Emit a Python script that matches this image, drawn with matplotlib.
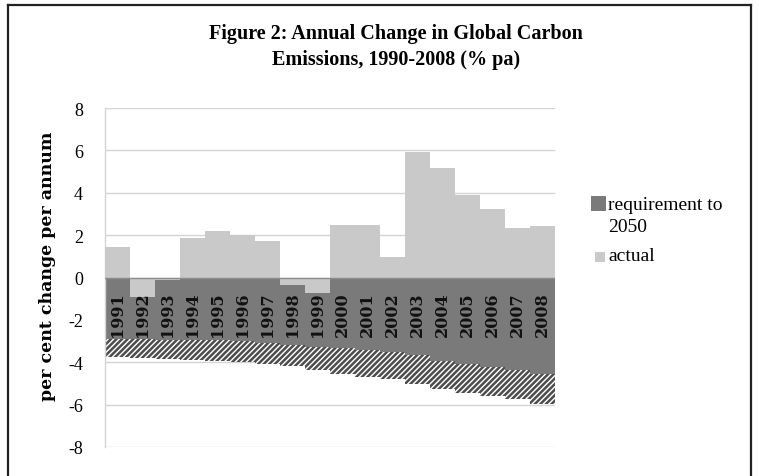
import matplotlib
matplotlib.use("Agg")
import matplotlib.pyplot as plt
from matplotlib.patches import Rectangle
from matplotlib.lines import Line2D

# Annual change in global carbon emissions (% per annum)
years = [1991, 1992, 1993, 1994, 1995, 1996, 1997, 1998, 1999,
         2000, 2001, 2002, 2003, 2004, 2005, 2006, 2007, 2008]
actual = [1.44, -0.93, -0.10, 1.87, 2.18, 2.02, 1.74, -0.35, -0.75,
          2.50, 2.46, 0.97, 5.91, 5.18, 3.91, 3.25, 2.34, 2.43]
# annual reduction needed to reach the 2050 target (upper and lower bound)
requirement = [-2.89, -2.90, -2.93, -2.95, -2.97, -3.00, -3.10, -3.20, -3.30,
               -3.32, -3.41, -3.52, -3.68, -3.92, -4.08, -4.23, -4.36, -4.55]
requirement_low = [-3.76, -3.80, -3.85, -3.90, -3.95, -4.00, -4.10, -4.20, -4.38,
                   -4.55, -4.68, -4.79, -5.02, -5.26, -5.47, -5.58, -5.73, -5.97]
yticks = [-8, -6, -4, -2, 0, 2, 4, 6, 8]

title = "Figure 2: Annual Change in Global Carbon\nEmissions, 1990-2008 (% pa)"
ylabel = "per cent change per annum"
legend_labels = ["requirement to\n2050", "actual"]

DARK = "#7a7a7a"
LIGHT = "#c9c9c9"
HATCH = "#4d4d4d"
GRID = "#d4d4d4"

plt.rcParams["hatch.linewidth"] = 1.8
plt.rcParams["hatch.color"] = HATCH

W, H = 759, 477
fig = plt.figure(figsize=(W / 100, H / 100), dpi=100)
fig.patch.set_facecolor("white")

def fx(px):
    return px / W

def fy(py):
    return 1 - py / H

ax = fig.add_axes([fx(105), fy(448), (555 - 105) / W, (448 - 109) / H])

# requirement bars from zero down to the upper bound
ax.bar(years, requirement, width=1.0, color=DARK, linewidth=0, zorder=2)
# hatched band between the upper and lower bound of the requirement
band = [lo - hi for lo, hi in zip(requirement_low, requirement)]
ax.bar(years, band, bottom=requirement, width=1.0, color="white",
       edgecolor=HATCH, hatch="//////", linewidth=0, zorder=2)
# actual annual change
ax.bar(years, actual, width=1.0, color=LIGHT, linewidth=0, zorder=3)
ax.axhline(0, color="#8c8c8c", lw=1.0, zorder=4)

for yr in years:
    ax.text(yr, -0.66, str(yr), rotation=90, ha="center", va="top",
            fontsize=11.5, fontweight="bold", family="DejaVu Serif",
            color="#111111", zorder=5)

ax.set_xlim(years[0] - 0.5, years[-1] + 0.5)
ax.set_ylim(-8, 8)
ax.set_yticks(yticks)
ax.set_yticklabels([str(v) for v in yticks], family="Liberation Serif",
                   fontsize=13)
ax.set_xticks([])
ax.tick_params(axis="y", length=0, pad=16)
ax.grid(axis="y", color=GRID, lw=1.0, zorder=0)
ax.set_axisbelow(True)
for side in ["top", "right", "bottom"]:
    ax.spines[side].set_visible(False)
ax.spines["left"].set_color(GRID)
ax.spines["left"].set_linewidth(1.0)

fig.text(fx(48), fy(266), ylabel, rotation=90, ha="center", va="center",
         fontsize=12.5, fontweight="bold", family="DejaVu Serif")

fig.text(fx(396), fy(47), title, ha="center", va="center", multialignment="center",
         fontsize=14.5, fontweight="bold", family="Liberation Serif",
         linespacing=1.35)

# legend
fig.patches.append(Rectangle((fx(591), fy(212)), 15 / W, 15 / H,
                             transform=fig.transFigure, facecolor=DARK,
                             edgecolor="none"))
fig.patches.append(Rectangle((fx(595), fy(263)), 10 / W, 10 / H,
                             transform=fig.transFigure, facecolor=LIGHT,
                             edgecolor="none"))
fig.text(fx(608), fy(205), legend_labels[0].split("\n")[0], ha="left", va="center",
         fontsize=14, family="Liberation Serif")
fig.text(fx(608), fy(228), legend_labels[0].split("\n")[1], ha="left", va="center",
         fontsize=14, family="Liberation Serif")
fig.text(fx(608), fy(257), legend_labels[1], ha="left", va="center",
         fontsize=14, family="Liberation Serif")

# outer frame
for xs, ys in [((8, 8), (6, 477)), ((8, 751), (6, 6)), ((751, 751), (6, 477))]:
    fig.lines.append(Line2D([fx(x) for x in xs], [fy(y) for y in ys],
                            transform=fig.transFigure, color="#222222", lw=1.6))

fig.savefig("out.png", dpi=100, facecolor="white")
